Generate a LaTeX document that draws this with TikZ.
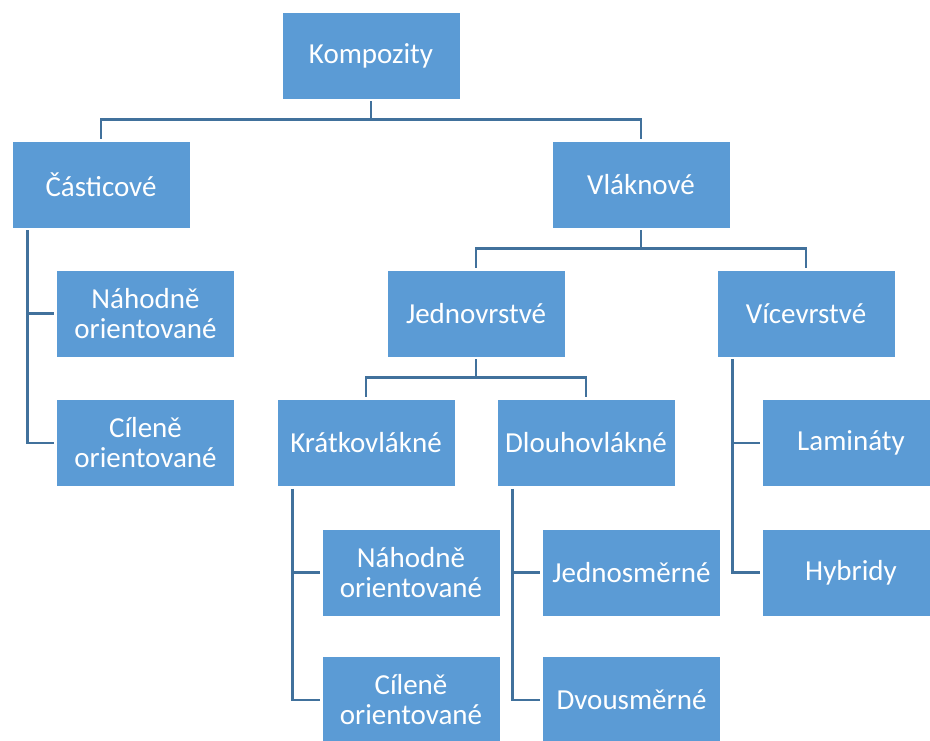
\documentclass[tikz,border=0pt]{standalone}
\usepackage{fontspec}
\setmainfont{Carlito}
\usepackage{tikz}
\usetikzlibrary{calc}

\definecolor{boxblue}{HTML}{5B9BD5}
\definecolor{linkblue}{HTML}{41719C}

\begin{document}
\begin{tikzpicture}[
  x=1pt, y=-1pt,
  box/.style={rectangle, fill=boxblue, draw=white, line width=0.8pt, text=white, align=center,
    minimum width=178pt, minimum height=87pt, inner sep=0pt, font=\fontsize{29}{30}\selectfont},
  link/.style={draw=linkblue, line width=2.6pt, shorten <=2pt, shorten >=2pt}
]
\useasboundingbox (0,0) rectangle (930,740);

\node[box] (komp) at (371,55.5) {Kompozity};
\node[box] (cast) at (101,184.5) {Částicové};
\node[box] (vlak) at (641,184.5) {Vláknové};
\node[box] (nah1) at (145.5,313.5) {Náhodně\\orientované};
\node[box] (cil1) at (145.5,443) {Cíleně\\orientované};
\node[box] (jedn) at (476,313.5) {Jednovrstvé};
\node[box] (vice) at (806,313.5) {Vícevrstvé};
\node[box] (krat) at (366,443) {Krátkovlákné};
\node[box] (dlou) at (586,443) {Dlouhovlákné};
\node[box] (lam) at (851,443) {Lamináty};
\node[box] (hyb) at (851,572.5) {Hybridy};
\node[box] (nah2) at (411,572.5) {Náhodně\\orientované};
\node[box] (cil2) at (411,700) {Cíleně\\orientované};
\node[box] (jsm) at (631.5,572.5) {Jednosměrné};
\node[box] (dsm) at (631.5,700) {Dvousměrné};

% tree levels
\draw[link] (komp.south) -- ++(0,20) -| (cast.north);
\draw[link] (komp.south) -- ++(0,20) -| (vlak.north);
\draw[link] (vlak.south) -- ++(0,20) -| (jedn.north);
\draw[link] (vlak.south) -- ++(0,20) -| (vice.north);
\draw[link] (jedn.south) -- ++(0,20) -| (krat.north);
\draw[link] (jedn.south) -- ++(0,20) -| (dlou.north);

% side brackets
\draw[link] ([xshift=16pt]cast.south west) |- (nah1.west);
\draw[link] ([xshift=16pt]cast.south west) |- (cil1.west);
\draw[link] ([xshift=16pt]krat.south west) |- (nah2.west);
\draw[link] ([xshift=16pt]krat.south west) |- (cil2.west);
\draw[link] ([xshift=16pt]dlou.south west) |- (jsm.west);
\draw[link] ([xshift=16pt]dlou.south west) |- (dsm.west);
\draw[link] ([xshift=16pt]vice.south west) |- (lam.west);
\draw[link] ([xshift=16pt]vice.south west) |- (hyb.west);

\end{tikzpicture}
\end{document}
